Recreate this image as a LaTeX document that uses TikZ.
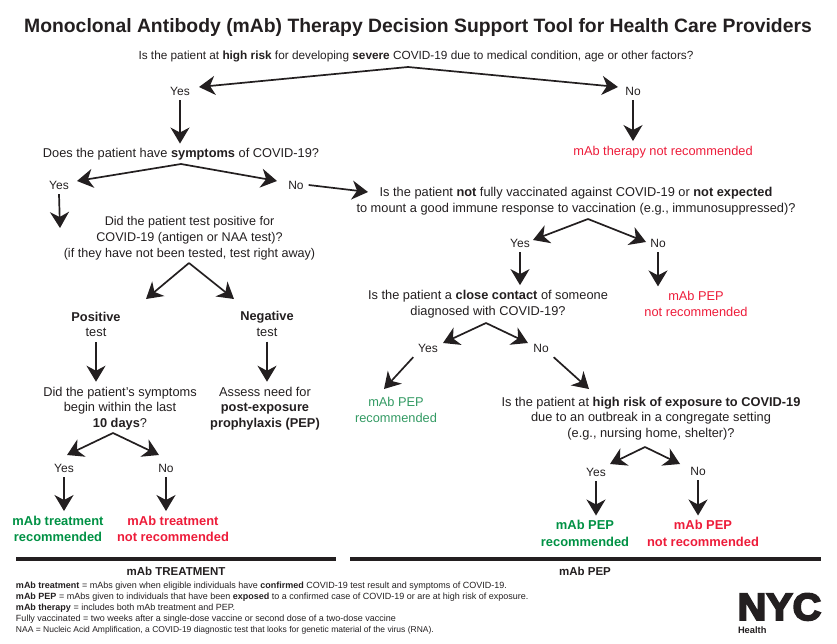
\documentclass[tikz,border=0pt]{standalone}
\usepackage{xcolor}
\usepackage{fontspec}
\setmainfont{Liberation Sans}
\newfontfamily\nycfont[FakeBold=5,FakeStretch=1.04]{Liberation Sans Bold}
\usetikzlibrary{arrows.meta,positioning}
\definecolor{OInk}{HTML}{231F20}
\definecolor{OGreen}{HTML}{00A14B}
\definecolor{ORed}{HTML}{ED1C3A}

\begin{document}
\begin{tikzpicture}[
  x=1pt,y=-1pt,
  every node/.style={text=OInk,font=\fontsize{12.8}{15.8}\selectfont,align=center,inner sep=1pt,outer sep=4pt},
  ttl/.style={font=\fontsize{19.35}{22}\bfseries\selectfont},
  lede/.style={font=\fontsize{11.8}{15}\selectfont},
  ans/.style={font=\fontsize{12}{15}\selectfont},
  okplain/.style={text=OGreen!80!black!80!white},
  noplain/.style={text=ORed},
  okbold/.style={text=OGreen!90!black,font=\fontsize{12.9}{16.5}\bfseries\selectfont},
  nobold/.style={text=ORed,font=\fontsize{12.9}{16.5}\bfseries\selectfont},
  head/.style={font=\fontsize{11.5}{13}\bfseries\selectfont},
  note/.style={font=\fontsize{9}{11.2}\selectfont,align=left,anchor=north west,inner sep=0pt,outer sep=0pt},
  a/.style={-{Stealth[length=16pt,width=19pt,inset=5pt]},line width=1.7pt,color=OInk},
  rule/.style={line width=3.2pt,color=OInk}
]
  \useasboundingbox (0,0) rectangle (837,643);
  \node[ttl] (title) at (418,27) {Monoclonal Antibody (mAb) Therapy Decision Support Tool for Health Care Providers};
  \node[lede] (qRisk) at (416,56) {Is the patient at \textbf{high risk} for developing \textbf{severe} COVID-19 due to medical condition, age or other factors?};
  \node[ans] (yesRisk) at (180,91) {Yes};
  \node[ans] (noRisk) at (633,91) {No};
  \node (qSym) at (181,154.5) {Does the patient have \textbf{symptoms} of COVID-19?};
  \node[noplain] (thNo) at (663,152) {mAb therapy not recommended};
  \node[ans] (yesSym) at (59,185) {Yes};
  \node[ans] (noSym) at (296,185) {No};
  \node (qVax) at (576,201) {Is the patient \textbf{not} fully vaccinated against COVID-19 or \textbf{not expected}\\to mount a good immune response to vaccination (e.g., immunosuppressed)?};
  \node[font=\fontsize{12.6}{15.8}\selectfont] (qTest) at (189.5,238.5) {Did the patient test positive for\\COVID-19 (antigen or NAA test)?\\(if they have not been tested, test right away)};
  \node (posT) at (96,324.5) {\textbf{Positive}\\test};
  \node (negT) at (267,324) {\textbf{Negative}\\test};
  \node (qDays) at (120,408.5) {Did the patient's symptoms\\begin within the last\\\textbf{10 days}?};
  \node (assess) at (265,408.5) {Assess need for\\\textbf{post-exposure}\\\textbf{prophylaxis (PEP)}};
  \node[ans] (yesDays) at (64,468) {Yes};
  \node[ans] (noDays) at (166,468) {No};
  \node[okbold] (trtYes) at (58,529) {mAb treatment\\recommended};
  \node[nobold] (trtNo) at (173,529) {mAb treatment\\not recommended};
  \node[ans] (yesVax) at (520,243) {Yes};
  \node[ans] (noVax) at (658,243) {No};
  \node (qClose) at (488,304) {Is the patient a \textbf{close contact} of someone\\diagnosed with COVID-19?};
  \node[noplain] (pepNoA) at (696,304) {mAb PEP\\not recommended};
  \node[ans] (yesClose) at (428,348) {Yes};
  \node[ans] (noClose) at (541,348) {No};
  \node[okplain] (pepYesA) at (396,410) {mAb PEP\\recommended};
  \node (qExpo) at (651,418.5) {Is the patient at \textbf{high risk of exposure to COVID-19}\\due to an outbreak in a congregate setting\\(e.g., nursing home, shelter)?};
  \node[ans] (yesExpo) at (596,472) {Yes};
  \node[ans] (noExpo) at (698,471) {No};
  \node[okbold] (pepYesB) at (585,533.5) {mAb PEP\\recommended};
  \node[nobold] (pepNoB) at (703,533.5) {mAb PEP\\not recommended};
  \node[head] (headT) at (176,571) {mAb TREATMENT};
  \node[head] (headP) at (585,571) {mAb PEP};
  \node[note] (notes) at (16,581.5) {\textbf{mAb treatment} = mAbs given when eligible individuals have \textbf{confirmed} COVID-19 test result and symptoms of COVID-19.\\
    \textbf{mAb PEP} = mAbs given to individuals that have been \textbf{exposed} to a confirmed case of COVID-19 or are at high risk of exposure.\\
    \textbf{mAb therapy} = includes both mAb treatment and PEP.\\
    Fully vaccinated = two weeks after a single-dose vaccine or second dose of a two-dose vaccine\\
    {\fontsize{8.5}{11.2}\selectfont NAA = Nucleic Acid Amplification, a COVID-19 diagnostic test that looks for genetic material of the virus (RNA).}};
  \node[inner sep=0pt,outer sep=0pt,text height=26pt,text depth=0pt,font=\fontsize{38}{38}\nycfont\selectfont] (logo) at (779.5,607) {NYC};
  \node[anchor=west,inner sep=0pt,outer sep=0pt,font=\fontsize{9.3}{10}\bfseries\selectfont] (health) at (738,630) {Health};
  % forks under each question
  \coordinate (apexRisk) at (408,67);
  \coordinate (apexSym) at (181,164);
  \coordinate (apexTest) at (189,263);
  \coordinate (apexDays) at (113,433);
  \coordinate (apexVax) at (588,219);
  \coordinate (apexClose) at (486,323);
  \coordinate (apexExpo) at (645,447);
  \coordinate (tipRiskY) at (199,87);
  \coordinate (tipRiskN) at (618,87);
  \coordinate (tipSymY) at (77,181);
  \coordinate (tipSymN) at (277,181);
  \coordinate (tipTestP) at (146,299);
  \coordinate (tipTestN) at (234,299);
  \coordinate (tipDaysY) at (67,455);
  \coordinate (tipDaysN) at (159,455);
  \coordinate (tipVaxY) at (533,240);
  \coordinate (tipVaxN) at (646,242);
  \coordinate (tipCloseY) at (443,343);
  \coordinate (tipCloseN) at (528,343);
  \coordinate (tipExpoY) at (610,464);
  \coordinate (tipExpoN) at (680,464);
  \coordinate (tipVax) at (368,192);
  \coordinate (tipPepA) at (384,389);
  \coordinate (tipExpo) at (589,389);
  \coordinate (tipTest) at (60,228);
  \foreach \x/\y in {apexRisk/tipRiskY,apexRisk/tipRiskN,apexSym/tipSymY,apexSym/tipSymN,apexTest/tipTestP,apexTest/tipTestN,apexDays/tipDaysY,apexDays/tipDaysN,apexVax/tipVaxY,apexVax/tipVaxN,apexClose/tipCloseY,apexClose/tipCloseN,apexExpo/tipExpoY,apexExpo/tipExpoN}
    {\draw[a] (\x) -- (\y);}
  % straight down
  \foreach \x/\y in {yesRisk/qSym,noRisk/thNo,posT/qDays,negT/assess,yesDays/trtYes,noDays/trtNo,yesVax/qClose,noVax/pepNoA,yesExpo/pepYesB,noExpo/pepNoB}
    {\draw[a] (\x.south) -- (\x.south |- \y.north);}
  \draw[a] (yesSym.south) -- (tipTest);
  \draw[a] (noSym.east) -- (tipVax);
  \draw[a] (yesClose.south west) -- (tipPepA);
  \draw[a] (noClose.south east) -- (tipExpo);
  \coordinate (ruleA) at (16,559);
  \coordinate (ruleB) at (336,559);
  \coordinate (ruleC) at (350,559);
  \coordinate (ruleD) at (821,559);
  \draw[rule] (ruleA) -- (ruleB);
  \draw[rule] (ruleC) -- (ruleD);
\end{tikzpicture}
\end{document}
